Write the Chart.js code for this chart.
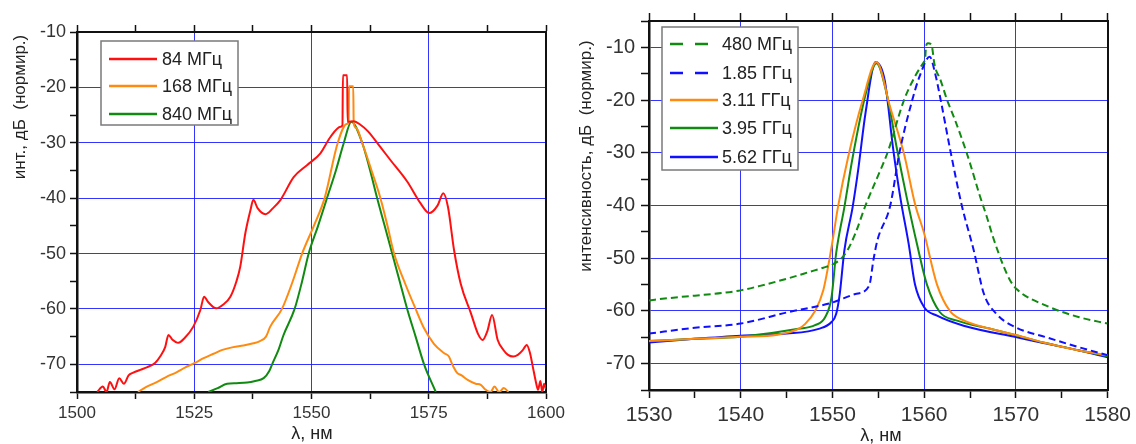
<!DOCTYPE html>
<html><head><meta charset="utf-8">
<script src="https://cdn.jsdelivr.net/npm/chart.js@4/dist/chart.umd.min.js"></script>
<style>
body{margin:0;background:#fff;width:1136px;height:444px;overflow:hidden;position:relative}
#w1{position:absolute;left:0;top:0;width:570px;height:444px}
#w2{position:absolute;left:570px;top:0;width:566px;height:444px}
</style></head><body>
<div id="w1"><canvas id="c1"></canvas></div>
<div id="w2"><canvas id="c2"></canvas></div>
<script>
// ---------- LEFT CHART DATA ----------
const leftLabels = ['84 МГц', '168 МГц', '840 МГц'];
const r84_x = [1504.3,1505.5,1506.3,1507,1508,1509,1510,1511,1512,1513.5,1515,1516.7,1517.8,1518.8,1519.5,1520.3,1521.6,1523,1524.8,1526.3,1527.1,1528,1529.7,1531.2,1532.7,1534,1534.8,1535.9,1537,1537.6,1538.5,1540.2,1541.8,1543.4,1546.2,1549.1,1551.9,1554,1556.2,1556.6,1556.7,1557.6,1557.7,1559,1560.5,1562,1564.7,1566.9,1570.4,1573.3,1575.1,1576.9,1578.1,1579.1,1580.4,1581.8,1584,1585.5,1586.5,1587.5,1588.5,1589.7,1591,1591.9,1593,1594,1595,1595.9,1596.6,1597.2,1597.8,1598.3,1598.8,1599.2,1599.6,1600];
const r84_y = [-75,-74,-75,-73.2,-74.5,-72.5,-73.5,-72,-71.5,-71,-70.5,-69.7,-68.5,-66.9,-64.7,-65.5,-66.1,-65.2,-63.2,-60.2,-57.8,-58.8,-59.9,-59.2,-57.8,-55,-52.4,-46.3,-42.1,-40.3,-41.8,-42.9,-41.8,-40.3,-36.2,-34,-31.9,-29,-27.1,-26.8,-17.8,-17.8,-26.2,-26.1,-26.8,-27.9,-30.8,-33.2,-37,-41,-42.7,-41.3,-39.1,-41.6,-49.4,-55.4,-60.8,-64.5,-65.6,-64,-61.1,-65.6,-67.5,-68.3,-68.6,-68.3,-67.5,-66.5,-68,-70.5,-73,-74.6,-73,-75,-73.5,-74.5];
const o168_x = [1513,1514.5,1517,1519,1521.3,1523,1525,1527,1529.1,1531,1533.3,1535.5,1537.6,1539,1540.3,1541.2,1543.7,1546,1548,1550.5,1552.8,1555.6,1557.5,1557.9,1558,1558.9,1559,1559.5,1560.8,1562.8,1564.7,1566.2,1567.6,1570,1572.2,1574,1576.1,1578.3,1579.3,1580,1581,1582,1583.3,1585,1586.1,1587,1588.2,1589,1590,1591,1592];
const o168_y = [-75,-74.2,-73.2,-72.3,-71.4,-70.6,-69.8,-68.9,-68.1,-67.4,-66.9,-66.6,-66.2,-65.8,-65,-63.2,-60,-55,-50,-45,-40,-30,-26.6,-26.3,-19.8,-19.8,-26.5,-27.3,-30,-35,-40,-45,-50,-55.5,-60,-63.5,-66.3,-68,-68.6,-70,-71.5,-72,-72.8,-73.5,-73.7,-74.5,-75,-74,-75,-74.3,-75];
const g840_x = [1528,1530,1532,1534,1536.3,1538,1539.8,1541,1541.6,1543,1544,1546.4,1548,1549.4,1551.4,1553.3,1555.2,1556.9,1558.5,1560.8,1562.5,1564,1565.6,1567.2,1568.8,1570.4,1572.2,1574,1576.5];
const g840_y = [-75,-74.3,-73.5,-73.4,-73.3,-73,-72.5,-71.2,-70,-67.3,-64.8,-60,-55,-50,-45,-40,-35,-30,-26.2,-30,-35,-40,-45,-50,-55,-60,-65,-70,-75];
const leftXMajor = [1500,1525,1550,1575,1600];
const leftXAll = [1500,1512.5,1525,1537.5,1550,1562.5,1575,1587.5,1600];
const leftYMajor = [-70,-60,-50,-40,-30,-20,-10];
const leftYAll = [-75,-70,-65,-60,-55,-50,-45,-40,-35,-30,-25,-20,-15,-10];

// ---------- RIGHT CHART DATA ----------
const rightLabels = ['480 МГц', '1.85 ГГц', '3.11 ГГц', '3.95 ГГц', '5.62 ГГц'];
const g480_x = [1530,1532,1535,1538,1540,1542,1545,1547.5,1549,1550,1551,1551.7,1552.5,1553.6,1555.3,1556,1557.8,1559,1560,1560.1,1560.2,1560.4,1560.8,1560.95,1561.1,1561.8,1562.5,1563.3,1564.3,1565,1566,1566.8,1567.6,1568.7,1569.4,1570.1,1573.3,1576.9,1580];
const g480_y = [-58,-57.6,-57.1,-56.6,-56.1,-55.3,-53.9,-52.6,-51.8,-51.2,-50,-48.3,-45.3,-40,-33,-30,-20,-15.5,-12.7,-12.3,-9.8,-9.2,-9.5,-11,-13,-16.3,-20,-23.5,-28.3,-32,-37.8,-42,-46.5,-51.7,-54.3,-55.9,-59,-61.2,-62.4];
const b185_x = [1530,1535,1540,1545,1550,1552.5,1554,1554.5,1554.9,1556.3,1557.3,1558.7,1559.5,1560.6,1561.2,1561.8,1562.9,1564.1,1565.4,1566.5,1567.9,1570.1,1573.3,1576.9,1580];
const b185_y = [-64.3,-63.2,-62.4,-60.3,-58.4,-56.8,-55.2,-50,-46.6,-40,-30,-20,-15.5,-11.8,-15,-20,-30,-40,-48.5,-56.7,-60.6,-63.2,-65,-66.9,-68.4];
const o311_x = [1530,1535,1540,1544,1546.3,1547,1548.1,1549,1549.9,1550.6,1551.7,1553.3,1554.8,1556.3,1557.8,1559,1560,1561.4,1562.8,1564.3,1567,1570.1,1573,1576.9,1580];
const o311_y = [-65.7,-65.3,-64.9,-64.5,-63.4,-62.5,-60,-56.1,-47.9,-40.3,-30.9,-20,-12.8,-21.4,-30.2,-39.7,-45.3,-55,-60,-61.8,-63.3,-64.6,-66,-67.5,-68.4];
const g395_x = [1530,1535,1540,1546.3,1548.1,1549.2,1549.9,1550.4,1551.3,1552.2,1553.6,1554.8,1556,1557,1558.1,1559.2,1560.3,1561.7,1563.5,1567,1570,1573,1576.9,1580];
const g395_y = [-65.7,-65.3,-64.9,-63.4,-62.7,-61.2,-57.4,-49.1,-40.3,-30.9,-19,-13,-19.5,-29,-38.5,-47.2,-55,-60.2,-61.8,-63.3,-64.6,-66,-67.5,-68.6];
const b562_x = [1530,1535,1540,1545,1548.5,1549.9,1550.4,1550.8,1551.3,1552.2,1552.8,1553.6,1554.7,1555.7,1556.6,1557.4,1558.3,1559,1560,1561.4,1564.3,1570.1,1573,1576.9,1580];
const b562_y = [-66,-65.3,-64.7,-64.3,-63.4,-62.1,-60.6,-56.7,-48.5,-40.3,-33.3,-22.5,-12.8,-16.3,-29,-38.5,-47.2,-55,-59.3,-60.9,-62.8,-65,-66.1,-67.5,-68.8];
const rightXMajor = [1530,1540,1550,1560,1570,1580];
const rightXAll = [1530,1535,1540,1545,1550,1555,1560,1565,1570,1575,1580];
const rightYMajor = [-70,-60,-50,-40,-30,-20,-10];
const rightYAll = [-75,-70,-65,-60,-55,-50,-45,-40,-35,-30,-25,-20,-15,-10,-5];

// ---------- helpers ----------
const FAM = '"Liberation Sans", Arial, sans-serif';
const GRID = 'rgba(30,30,255,0.9)';
const pts = (xs, ys) => xs.map((v, i) => ({x: v, y: ys[i]}));

const boxLegend = {
  id: 'boxLegend',
  afterDraw(chart, args, o) {
    const ctx = chart.ctx;
    ctx.save();
    ctx.fillStyle = '#fff';
    ctx.fillRect(o.x, o.y, o.w, o.h);
    ctx.strokeStyle = '#7a7a7a';
    ctx.lineWidth = 1.5;
    ctx.strokeRect(o.x, o.y, o.w, o.h);
    ctx.font = o.fontSize + 'px ' + FAM;
    ctx.textBaseline = 'middle';
    chart.data.datasets.forEach((ds, i) => {
      const yy = o.rows[i];
      ctx.strokeStyle = ds.borderColor;
      ctx.lineWidth = o.lw;
      ctx.setLineDash(ds.legendDash || []);
      ctx.beginPath();
      ctx.moveTo(o.lx1, yy); ctx.lineTo(o.lx2, yy);
      ctx.stroke();
      ctx.setLineDash([]);
      ctx.fillStyle = '#222';
      ctx.fillText(ds.label, o.tx, yy + 1);
    });
    ctx.restore();
  }
};
const titles = {
  id: 'titles',
  afterDraw(chart, args, o) {
    const ctx = chart.ctx;
    ctx.save();
    ctx.fillStyle = '#222';
    ctx.textAlign = 'center';
    ctx.textBaseline = 'middle';
    o.items.forEach(t => {
      ctx.save();
      ctx.font = t.size + 'px ' + FAM;
      ctx.translate(t.x, t.y);
      if (t.rot) ctx.rotate(t.rot);
      ctx.fillText(t.text, 0, 0);
      ctx.restore();
    });
    ctx.restore();
  }
};

function scalesFor(xMin, xMax, xAll, xMaj, yMin, yMax, yAll, yMaj, g) {
  const setTicks = arr => s => { s.ticks = arr.map(v => ({value: v})); };
  const gridCol = (maj, lo, hi) => ctx => (ctx.tick && maj.includes(ctx.tick.value) && ctx.tick.value !== lo && ctx.tick.value !== hi) ? GRID : 'rgba(0,0,0,0)';
  return {
    x: {
      type: 'linear', position: 'bottom', min: xMin, max: xMax,
      afterBuildTicks: setTicks(xAll),
      afterFit: s => { s.height = g.bottom; },
      ticks: {autoSkip: false, maxRotation: 0, padding: g.xPad, color: '#333',
        font: {family: FAM, size: g.xFont},
        callback: v => xMaj.includes(v) ? String(v) : ''},
      grid: {color: gridCol(xMaj, xMin, xMax), lineWidth: 1, tickColor: '#111', tickLength: g.tick, tickWidth: 1.5},
      border: {color: '#111', width: 2.5}
    },
    x2: {
      type: 'linear', position: 'top', min: xMin, max: xMax,
      afterBuildTicks: setTicks(xAll),
      afterFit: s => { s.height = g.top; },
      ticks: {display: false},
      grid: {drawOnChartArea: false, tickColor: '#111', tickLength: g.tick, tickWidth: 1.5},
      border: {color: '#111', width: 2}
    },
    y: {
      type: 'linear', position: 'left', min: yMin, max: yMax,
      afterBuildTicks: setTicks(yAll),
      afterFit: s => { s.width = g.left; },
      ticks: {autoSkip: false, padding: g.yPad, color: '#333',
        font: {family: FAM, size: g.yFont},
        callback: v => yMaj.includes(v) ? String(v) : ''},
      grid: {color: gridCol(yMaj, yMin, yMax), lineWidth: 1, tickColor: '#111', tickLength: g.tick, tickWidth: 1.5},
      border: {color: '#111', width: 2.5}
    },
    y2: {
      type: 'linear', position: 'right', min: yMin, max: yMax,
      afterFit: s => { s.width = g.right; },
      ticks: {display: false},
      grid: {drawOnChartArea: false, drawTicks: false},
      border: {color: '#111', width: 2}
    }
  };
}

const lineDs = (label, xs, ys, color, dash, legendDash) => ({
  label, data: pts(xs, ys), borderColor: color, backgroundColor: color,
  borderWidth: 2, pointRadius: 0, fill: false, cubicInterpolationMode: 'monotone',
  borderDash: dash || [], legendDash: legendDash || []
});

const RED = '#ff1010', ORANGE = '#ff8a10', GREEN = '#118a11', BLUE = '#1010ff';

new Chart(document.getElementById('c1'), {
  type: 'line',
  data: {datasets: [
    lineDs(leftLabels[0], r84_x, r84_y, RED),
    lineDs(leftLabels[1], o168_x, o168_y, ORANGE),
    lineDs(leftLabels[2], g840_x, g840_y, GREEN)
  ]},
  options: {
    responsive: true, maintainAspectRatio: false, animation: false,
    layout: {padding: 0},
    scales: scalesFor(1500, 1600, leftXAll, leftXMajor, -75, -10, leftYAll, leftYMajor,
      {left: 77, right: 24, top: 32, bottom: 52, tick: 7, xPad: 4, yPad: 4, xFont: 17, yFont: 18}),
    plugins: {
      legend: {display: false}, tooltip: {enabled: false},
      boxLegend: {x: 101, y: 41, w: 137, h: 84, rows: [59, 86, 114], lx1: 109, lx2: 157, tx: 162, fontSize: 18, lw: 2.5},
      titles: {items: [
        {text: 'инт., дБ  (нормир.)', x: 20, y: 107, rot: -Math.PI / 2, size: 17},
        {text: 'λ, нм', x: 312, y: 434, size: 18}
      ]}
    }
  },
  plugins: [boxLegend, titles]
});

new Chart(document.getElementById('c2'), {
  type: 'line',
  data: {datasets: [
    lineDs(rightLabels[0], g480_x, g480_y, GREEN, [7, 4], [13, 12]),
    lineDs(rightLabels[1], b185_x, b185_y, BLUE, [7, 4], [13, 12]),
    lineDs(rightLabels[2], o311_x, o311_y, ORANGE),
    lineDs(rightLabels[3], g395_x, g395_y, GREEN),
    lineDs(rightLabels[4], b562_x, b562_y, BLUE)
  ]},
  options: {
    responsive: true, maintainAspectRatio: false, animation: false,
    layout: {padding: 0},
    scales: scalesFor(1530, 1580, rightXAll, rightXMajor, -75, -5, rightYAll, rightYMajor,
      {left: 79, right: 24, top: 21, bottom: 54, tick: 8, xPad: 5, yPad: 6, xFont: 21, yFont: 20}),
    plugins: {
      legend: {display: false}, tooltip: {enabled: false},
      boxLegend: {x: 92, y: 27, w: 136, h: 143, rows: [44, 73, 100, 128, 157], lx1: 100, lx2: 148, tx: 152, fontSize: 18, lw: 2.5},
      titles: {items: [
        {text: 'интенсивность, дБ  (нормир.)', x: 16, y: 156, rot: -Math.PI / 2, size: 17},
        {text: 'λ, нм', x: 311, y: 436, size: 18}
      ]}
    }
  },
  plugins: [boxLegend, titles]
});
</script>
</body></html>
